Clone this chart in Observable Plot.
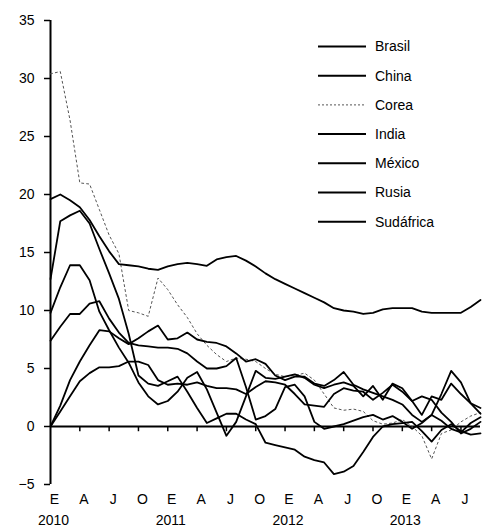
<!DOCTYPE html>
<html>
<head>
<meta charset="utf-8">
<script src="https://cdn.jsdelivr.net/npm/d3@7"></script>
<script src="https://cdn.jsdelivr.net/npm/@observablehq/plot@0.6"></script>
<style>
  html, body { margin: 0; padding: 0; background: #fff; }
  #chart { width: 485px; height: 529px; overflow: hidden; }
  svg { font-family: "Liberation Sans", Arial, sans-serif; }
</style>
</head>
<body>
<div id="chart"></div>
<script>
// Monthly series, Jan 2010 (index 0) to Sep 2013 (index 44)
const countries = ["Brasil", "China", "Corea", "India", "México", "Rusia", "Sudáfrica"];

const brasil = [12.7,17.7,18.2,18.6,17.5,15.3,13.2,11.0,8.0,4.4,3.7,3.5,3.9,4.3,3.0,1.6,0.3,0.7,1.1,1.1,0.6,0.2,-1.4,-1.6,-1.8,-2.0,-2.6,-2.9,-3.1,-4.1,-3.9,-3.4,-2.2,-0.9,0.0,0.2,0.3,0.4,-0.4,-1.3,-0.3,0.2,-0.4,-0.7,-0.6];
const china = [19.6,20.0,19.5,18.9,17.8,16.4,15.1,14.0,13.9,13.8,13.6,13.5,13.8,14.0,14.1,14.0,13.85,14.4,14.6,14.7,14.3,13.8,13.2,12.7,12.3,11.9,11.5,11.1,10.7,10.2,10.0,9.9,9.7,9.8,10.1,10.2,10.2,10.2,9.9,9.8,9.8,9.8,9.8,10.3,10.9];
const corea = [30.4,30.6,26.4,21.0,20.9,18.7,16.5,14.9,10.0,9.8,9.5,12.8,11.8,10.5,9.4,8.0,7.0,6.2,5.6,5.9,5.8,5.6,5.0,4.5,4.3,4.4,4.6,4.0,2.8,1.6,1.4,1.5,1.3,0.5,0.2,0.3,0.6,0.0,-0.8,-2.8,-0.6,-0.3,0.4,0.9,1.2];
const india = [9.8,12.0,13.9,13.9,12.6,9.9,8.3,6.8,5.5,3.8,2.6,1.9,2.2,3.0,4.2,4.7,3.2,1.2,-0.8,0.4,2.6,4.8,4.2,4.1,4.3,4.5,4.2,3.6,3.3,3.6,3.8,3.5,2.6,3.5,2.3,3.7,3.3,2.2,1.0,2.6,2.3,3.7,2.8,2.0,1.6];
const mexico = [0.0,1.8,4.0,5.6,7.0,8.3,8.2,7.6,7.1,7.6,8.2,8.7,7.5,7.6,8.1,7.5,7.3,7.2,6.9,6.3,5.6,5.8,5.4,4.4,4.0,4.3,4.3,3.7,3.5,4.0,4.7,3.6,3.2,2.9,2.6,2.3,1.9,1.0,0.4,1.0,2.8,4.8,3.8,2.0,1.1];
const rusia = [7.4,8.6,9.7,9.7,10.6,10.8,9.3,8.1,7.2,7.0,6.9,6.8,6.8,6.7,6.3,5.6,5.0,5.0,5.2,5.9,3.4,0.6,0.9,1.5,3.4,3.6,2.6,0.4,-0.2,0.0,0.2,0.5,0.8,1.0,0.6,0.9,0.4,-0.2,0.3,1.0,0.5,-0.2,-0.5,0.3,0.8];
const sudafrica = [0.0,1.3,2.6,3.9,4.6,5.1,5.1,5.2,5.6,5.6,5.3,4.0,3.6,3.7,3.6,3.8,3.5,3.3,3.3,3.2,2.8,3.4,3.9,3.8,3.6,2.8,1.9,1.8,1.7,2.8,3.3,3.1,3.0,2.3,2.9,3.6,3.0,2.2,2.6,2.3,1.2,0.4,-0.6,-0.2,0.4];

const yTicks = [-5, 0, 5, 10, 15, 20, 25, 30, 35];
const monthTicks = [0, 3, 6, 9, 12, 15, 18, 21, 24, 27, 30, 33, 36, 39, 42];
const monthLabels = ["E", "A", "J", "O", "E", "A", "J", "O", "E", "A", "J", "O", "E", "A", "J"];
const yearTicks = [0, 12, 24, 36];
const yearLabels = ["2010", "2011", "2012", "2013"];

const seriesList = [brasil, china, corea, india, mexico, rusia, sudafrica];
const rows = [];
seriesList.forEach((vals, k) => {
  vals.forEach((v, m) => rows.push({country: countries[k], m, value: v}));
});
const solidRows = rows.filter(d => d.country !== "Corea");
const coreaRows = rows.filter(d => d.country === "Corea");

// legend drawn inside the plot area
function legend(index, scales, values, dimensions) {
  const g = d3.create("svg:g").attr("text-anchor", "start");
  countries.forEach((c, i) => {
    const y = 46.5 + i * 29.2;
    g.append("line")
      .attr("x1", 318).attr("x2", 366).attr("y1", y).attr("y2", y)
      .attr("stroke", c === "Corea" ? "#555" : "#000")
      .attr("stroke-width", c === "Corea" ? 1 : 2)
      .attr("stroke-dasharray", c === "Corea" ? "2,2" : null);
    g.append("text")
      .attr("x", 375).attr("y", y)
      .attr("dy", "0.35em")
      .attr("text-anchor", "start")
      .attr("font-size", 14)
      .attr("fill", "#000")
      .text(c);
  });
  return g.node();
}

const chart = Plot.plot({
  width: 485,
  height: 529,
  marginTop: 20,
  marginLeft: 50,
  marginRight: 5,
  marginBottom: 45,
  style: {fontFamily: "'Liberation Sans', Arial, sans-serif", fontSize: "14px", color: "#000", background: "#fff"},
  x: {domain: [0, 44], axis: null},
  y: {domain: [-5, 35], axis: null},
  marks: [
    Plot.axisY({ticks: yTicks, tickSize: 6, tickPadding: 10, fontSize: 14, label: null, strokeWidth: 1.5}),
    Plot.text(monthLabels, {x: (d, i) => monthTicks[i], frameAnchor: "bottom", dy: 19, dx: 4, text: d => d, fontSize: 14}),
    Plot.text(yearLabels, {x: (d, i) => yearTicks[i], frameAnchor: "bottom", dy: 40, dx: 3, text: d => d, fontSize: 14}),
    Plot.ruleX([0], {y1: -5, y2: 35, strokeWidth: 2}),
    Plot.ruleY([0], {strokeWidth: 2}),
    Plot.ruleX(monthTicks.slice(1), {y1: 0, y2: -0.45, strokeWidth: 1.5}),
    Plot.lineY(coreaRows, {x: "m", y: "value", z: "country", stroke: "#555", strokeWidth: 1, strokeDasharray: "2,3"}),
    Plot.lineY(solidRows, {x: "m", y: "value", z: "country", stroke: "#000", strokeWidth: 1.8}),
    legend
  ]
});
document.getElementById("chart").appendChild(chart);
</script>
</body>
</html>
